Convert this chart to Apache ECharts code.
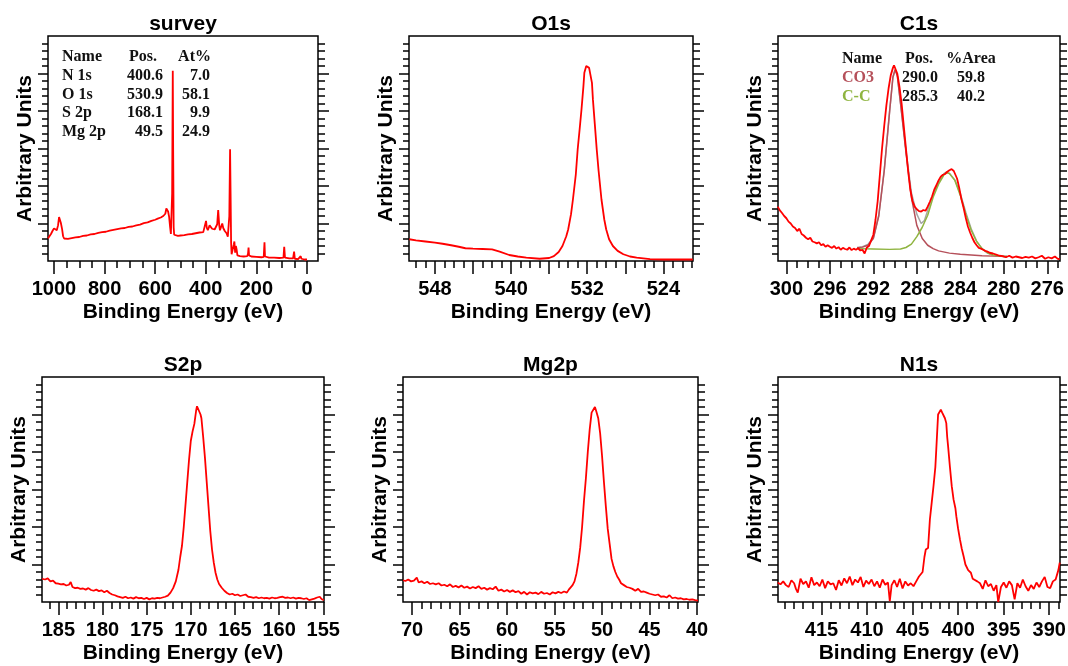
<!DOCTYPE html>
<html>
<head>
<meta charset="utf-8">
<script src="https://cdn.jsdelivr.net/npm/echarts@6/dist/echarts.min.js"></script>
<style>html,body{margin:0;padding:0;background:#fff;}#c{width:1068px;height:666px;}</style>
</head>
<body>
<div id="c"></div>
<script>
// ---------------- DATA ----------------
const panelTitles = ['survey', 'O1s', 'C1s', 'S2p', 'Mg2p', 'N1s'];

const surveyTickLabels = [1000, 800, 600, 400, 200, 0];
const o1sTickLabels = [548, 540, 532, 524];
const c1sTickLabels = [300, 296, 292, 288, 284, 280, 276];
const s2pTickLabels = [185, 180, 175, 170, 165, 160, 155];
const mg2pTickLabels = [70, 65, 60, 55, 50, 45, 40];
const n1sTickLabels = [415, 410, 405, 400, 395, 390];

const surveyTableNames = ['N 1s', 'O 1s', 'S 2p', 'Mg 2p'];
const surveyTablePos = ['400.6', '530.9', '168.1', '49.5'];
const surveyTableAt = ['7.0', '58.1', '9.9', '24.9'];

const c1sTableNames = ['CO3', 'C-C'];
const c1sTablePos = ['290.0', '285.3'];
const c1sTableArea = ['59.8', '40.2'];

const surveyData = [[1024,0.6],[1018,0.66],[1012,0.72],[1006,0.8],[1000,0.87],[995,0.84],[989,0.82],[984,0.95],[980,1.17],[977,1.12],[973,1.02],[968,0.85],[964,0.66],[960,0.6],[955,0.58],[945,0.59],[930,0.61],[915,0.63],[900,0.64],[885,0.67],[870,0.68],[855,0.71],[840,0.72],[825,0.75],[810,0.77],[795,0.78],[780,0.81],[765,0.83],[750,0.85],[735,0.87],[720,0.88],[705,0.91],[690,0.92],[675,0.95],[660,0.97],[645,1.01],[630,1.03],[615,1.07],[600,1.1],[590,1.13],[578,1.16],[568,1.2],[560,1.26],[556,1.4],[553,1.42],[549,1.32],[545,1.18],[541,0.9],[538,0.72],[535,0.75],[533,1.8],[530.5,5.07],[529,3.0],[527,0.9],[525,0.7],[520,0.66],[510,0.67],[500,0.68],[485,0.69],[470,0.71],[455,0.72],[440,0.74],[425,0.76],[410,0.77],[403,0.79],[399,1.07],[396,0.88],[392,0.82],[388,0.86],[385,0.95],[382,0.9],[375,0.86],[365,0.84],[358,0.85],[355,0.98],[351,1.36],[347,0.96],[344,0.82],[339,0.85],[335,1.0],[331,0.88],[325,0.8],[318,0.74],[313,0.65],[310,0.6],[307,1.2],[304,2.98],[302,1.8],[300,0.5],[298,0.18],[294,0.2],[289,0.45],[287,0.52],[284,0.22],[281,0.4],[278,0.3],[275,0.15],[265,0.13],[250,0.12],[236,0.13],[233,0.2],[231,0.36],[229,0.15],[220,0.12],[200,0.11],[180,0.1],[171,0.11],[168,0.5],[166,0.12],[150,0.09],[130,0.09],[110,0.08],[93,0.09],[90,0.38],[87,0.09],[70,0.07],[55,0.07],[51,0.25],[48,0.06],[35,0.05],[28,0.06],[25,0.13],[22,0.06],[10,0.04],[0,0.04]];

const o1sData = [[550.7,0.58],[550.0,0.55],[549.0,0.52],[548.0,0.49],[547.2,0.46],[546.3,0.42],[545.5,0.38],[544.8,0.34],[544.0,0.33],[543.0,0.32],[542.0,0.31],[541.2,0.25],[540.2,0.16],[539.3,0.12],[538.4,0.09],[537.0,0.06],[536.0,0.08],[535.5,0.13],[535.0,0.24],[534.6,0.4],[534.2,0.66],[534.0,0.84],[533.7,1.25],[533.5,1.64],[533.2,2.3],[533.0,2.98],[532.8,3.5],[532.6,4.04],[532.4,4.65],[532.3,5.02],[532.1,5.2],[532.0,5.23],[531.8,5.15],[531.7,5.11],[531.5,4.75],[531.4,4.31],[531.2,3.65],[531.0,2.98],[530.8,2.4],[530.5,1.64],[530.2,1.1],[530.0,0.84],[529.7,0.58],[529.3,0.4],[528.8,0.27],[528.2,0.18],[527.5,0.12],[526.8,0.09],[525.4,0.05],[524.0,0.04],[522.0,0.04],[520.9,0.04]];

const c1sRaw = [[300.8,1.45],[300.6,1.35],[300.4,1.28],[300.2,1.2],[300.0,1.14],[299.8,1.05],[299.6,1.0],[299.4,0.92],[299.2,0.88],[299.0,0.8],[298.8,0.86],[298.6,0.72],[298.4,0.68],[298.2,0.62],[298.0,0.58],[297.8,0.62],[297.6,0.52],[297.4,0.5],[297.2,0.47],[297.0,0.5],[296.8,0.42],[296.6,0.45],[296.4,0.38],[296.2,0.42],[296.0,0.38],[295.8,0.35],[295.6,0.4],[295.4,0.33],[295.2,0.37],[295.0,0.3],[294.8,0.35],[294.6,0.32],[294.4,0.3],[294.2,0.36],[294.0,0.29],[293.8,0.33],[293.6,0.3],[293.4,0.34],[293.2,0.28],[293.0,0.3],[292.8,0.2],[292.6,0.36],[292.4,0.4],[292.2,0.55],[292.0,0.7],[291.8,1.1],[291.6,1.6],[291.4,2.3],[291.2,3.0],[291.0,3.6],[290.8,4.15],[290.6,4.6],[290.4,4.95],[290.2,5.15],[290.1,5.22],[290.0,5.2],[289.8,5.0],[289.6,4.65],[289.4,4.2],[289.2,3.6],[289.0,3.0],[288.8,2.4],[288.6,1.9],[288.4,1.6],[288.2,1.45],[288.0,1.38],[287.8,1.33],[287.6,1.32],[287.4,1.36],[287.2,1.34],[287.0,1.45],[286.8,1.58],[286.6,1.72],[286.4,1.9],[286.2,2.02],[286.0,2.15],[285.8,2.25],[285.6,2.3],[285.4,2.32],[285.2,2.38],[285.0,2.42],[284.8,2.45],[284.6,2.4],[284.5,2.36],[284.3,2.2],[284.1,1.95],[283.9,1.65],[283.7,1.42],[283.5,1.15],[283.3,0.92],[283.1,0.76],[282.9,0.62],[282.7,0.5],[282.5,0.42],[282.3,0.35],[282.1,0.33],[281.9,0.3],[281.7,0.27],[281.5,0.25],[281.3,0.22],[281.0,0.2],[280.7,0.17],[280.4,0.14],[280.1,0.13],[279.8,0.1],[279.5,0.14],[279.2,0.09],[278.9,0.12],[278.6,0.1],[278.3,0.08],[278.0,0.11],[277.7,0.09],[277.4,0.12],[277.1,0.07],[276.8,0.1],[276.5,0.14],[276.2,0.06],[275.9,0.1],[275.6,0.07],[275.3,0.12],[275.0,0.05],[274.85,0.06]];

const c1sEnvelope = [[293.5,0.36],[293.0,0.38],[292.5,0.44],[292.0,0.62],[291.5,1.22],[291.0,2.42],[290.5,4.0],[290.2,4.9],[290.0,5.1],[289.8,4.96],[289.5,4.22],[289.0,2.95],[288.5,1.82],[288.0,1.25],[287.6,1.0],[287.3,1.08],[287.0,1.35],[286.5,1.78],[286.0,2.1],[285.5,2.33],[285.3,2.37],[285.0,2.34],[284.5,2.16],[284.0,1.8],[283.5,1.3],[283.0,0.86],[282.5,0.53],[282.0,0.33],[281.5,0.21],[281.0,0.15],[280.0,0.12],[279.7,0.12]];

const c1sCO3 = [[293.5,0.35],[293.0,0.37],[292.5,0.42],[292.0,0.6],[291.5,1.2],[291.0,2.4],[290.5,4.0],[290.2,4.9],[290.0,5.1],[289.8,4.95],[289.5,4.2],[289.0,2.9],[288.5,1.7],[288.0,0.95],[287.5,0.6],[287.0,0.42],[286.5,0.33],[286.0,0.27],[285.0,0.21],[284.0,0.18],[283.0,0.16],[282.0,0.14],[281.0,0.13],[279.7,0.12]];

const c1sCC = [[293.5,0.33],[292.0,0.32],[290.5,0.31],[289.5,0.32],[289.0,0.36],[288.5,0.45],[288.0,0.65],[287.5,0.9],[287.0,1.22],[286.5,1.7],[286.0,2.05],[285.5,2.3],[285.3,2.36],[285.0,2.33],[284.5,2.15],[284.0,1.75],[283.5,1.25],[283.0,0.82],[282.5,0.52],[282.0,0.33],[281.5,0.22],[281.0,0.16],[280.0,0.12],[279.7,0.12]];

const s2pData = [[186.85,0.62],[186.5,0.6],[186.2,0.63],[185.9,0.55],[185.6,0.57],[185.3,0.5],[185.0,0.49],[184.7,0.47],[184.4,0.48],[184.1,0.44],[183.8,0.46],[183.6,0.53],[183.4,0.4],[183.1,0.37],[182.8,0.38],[182.5,0.35],[182.2,0.36],[181.9,0.33],[181.6,0.37],[181.3,0.32],[181.0,0.3],[180.7,0.33],[180.4,0.29],[180.1,0.31],[179.8,0.26],[179.5,0.3],[179.2,0.24],[178.9,0.2],[178.6,0.18],[178.3,0.15],[178.0,0.13],[177.7,0.11],[177.4,0.14],[177.1,0.1],[176.8,0.12],[176.5,0.09],[176.2,0.13],[175.9,0.1],[175.6,0.11],[175.3,0.08],[175.0,0.11],[174.7,0.07],[174.4,0.1],[174.1,0.09],[173.8,0.11],[173.5,0.1],[173.2,0.12],[172.9,0.14],[172.6,0.17],[172.3,0.25],[172.0,0.37],[171.7,0.55],[171.4,0.86],[171.2,1.2],[171.0,1.5],[170.8,2.0],[170.6,2.6],[170.4,3.2],[170.2,3.8],[170.0,4.3],[169.8,4.55],[169.6,4.75],[169.4,5.1],[169.3,5.22],[169.1,5.17],[168.9,5.0],[168.8,4.9],[168.6,4.4],[168.4,3.85],[168.2,3.2],[168.0,2.55],[167.8,1.9],[167.6,1.4],[167.4,1.05],[167.2,0.78],[167.0,0.6],[166.8,0.48],[166.5,0.38],[166.2,0.3],[165.9,0.24],[165.6,0.2],[165.3,0.22],[165.0,0.18],[164.7,0.2],[164.4,0.16],[164.1,0.18],[163.8,0.2],[163.5,0.14],[163.2,0.13],[162.9,0.11],[162.6,0.13],[162.3,0.1],[162.0,0.12],[161.7,0.1],[161.4,0.11],[161.1,0.09],[160.8,0.12],[160.5,0.1],[160.2,0.11],[159.9,0.13],[159.6,0.14],[159.3,0.11],[159.0,0.12],[158.7,0.1],[158.4,0.12],[158.1,0.09],[157.8,0.11],[157.5,0.1],[157.2,0.08],[156.9,0.1],[156.6,0.05],[156.3,0.07],[156.0,0.09],[155.7,0.12],[155.4,0.14],[155.2,0.08],[154.95,0.05]];

const mg2pData = [[70.95,0.58],[70.7,0.56],[70.4,0.6],[70.1,0.55],[69.8,0.57],[69.5,0.65],[69.3,0.52],[69.0,0.55],[68.7,0.5],[68.4,0.54],[68.1,0.48],[67.8,0.5],[67.5,0.47],[67.2,0.5],[66.9,0.44],[66.6,0.46],[66.3,0.42],[66.0,0.47],[65.7,0.4],[65.4,0.43],[65.1,0.39],[64.8,0.44],[64.5,0.38],[64.2,0.41],[63.9,0.36],[63.6,0.4],[63.3,0.37],[63.0,0.42],[62.7,0.35],[62.4,0.38],[62.1,0.33],[61.8,0.37],[61.5,0.34],[61.2,0.41],[60.9,0.3],[60.6,0.33],[60.3,0.28],[60.0,0.32],[59.7,0.27],[59.4,0.31],[59.1,0.26],[58.8,0.29],[58.5,0.22],[58.2,0.27],[57.9,0.2],[57.6,0.26],[57.3,0.23],[57.0,0.25],[56.7,0.21],[56.4,0.27],[56.1,0.22],[55.8,0.24],[55.5,0.2],[55.2,0.26],[54.9,0.23],[54.6,0.27],[54.3,0.24],[54.0,0.28],[53.7,0.25],[53.5,0.33],[53.3,0.38],[53.1,0.45],[52.9,0.55],[52.7,0.75],[52.5,1.05],[52.3,1.45],[52.1,2.0],[51.9,2.7],[51.7,3.3],[51.5,4.0],[51.3,4.6],[51.1,5.05],[50.9,5.1],[50.75,5.2],[50.6,5.08],[50.4,4.9],[50.2,4.5],[50.0,3.9],[49.8,3.2],[49.6,2.55],[49.4,1.95],[49.2,1.55],[49.0,1.15],[48.8,0.95],[48.6,0.8],[48.4,0.68],[48.2,0.6],[48.0,0.5],[47.7,0.45],[47.4,0.4],[47.1,0.38],[46.8,0.35],[46.5,0.3],[46.2,0.35],[45.9,0.27],[45.6,0.28],[45.3,0.25],[45.0,0.22],[44.7,0.2],[44.4,0.18],[44.1,0.2],[43.8,0.14],[43.5,0.15],[43.2,0.12],[42.9,0.18],[42.6,0.1],[42.3,0.12],[42.0,0.09],[41.7,0.1],[41.4,0.07],[41.1,0.08],[40.8,0.06],[40.5,0.07],[40.2,0.05],[39.9,0.04]];

const n1sData = [[419.8,0.52],[419.5,0.47],[419.2,0.55],[418.9,0.45],[418.6,0.4],[418.3,0.58],[418.0,0.5],[417.8,0.35],[417.6,0.25],[417.3,0.62],[417.0,0.48],[416.7,0.55],[416.4,0.38],[416.1,0.66],[415.8,0.45],[415.5,0.52],[415.2,0.42],[414.9,0.6],[414.6,0.37],[414.3,0.55],[414.0,0.47],[413.7,0.5],[413.4,0.32],[413.1,0.58],[412.8,0.44],[412.5,0.63],[412.2,0.5],[411.9,0.68],[411.6,0.45],[411.3,0.6],[411.0,0.52],[410.7,0.67],[410.4,0.4],[410.1,0.57],[409.8,0.48],[409.5,0.6],[409.2,0.42],[408.9,0.55],[408.6,0.38],[408.3,0.6],[408.0,0.46],[407.7,0.52],[407.5,0.02],[407.3,0.45],[407.0,0.58],[406.7,0.4],[406.4,0.62],[406.1,0.36],[405.8,0.55],[405.5,0.44],[405.2,0.5],[404.9,0.42],[404.6,0.55],[404.3,0.68],[403.9,0.8],[403.7,1.2],[403.55,1.4],[403.3,1.44],[403.1,2.2],[402.9,2.65],[402.7,3.1],[402.5,3.6],[402.4,4.06],[402.2,5.0],[402.0,5.05],[401.9,5.13],[401.75,5.05],[401.6,5.1],[401.45,4.9],[401.3,4.77],[401.2,4.4],[401.1,4.15],[400.9,3.6],[400.7,3.09],[400.5,2.73],[400.3,2.5],[400.2,2.29],[400.0,1.95],[399.8,1.67],[399.6,1.42],[399.4,1.22],[399.2,1.0],[399.1,0.96],[398.9,0.85],[398.6,0.78],[398.4,0.62],[398.2,0.6],[397.9,0.55],[397.6,0.5],[397.3,0.35],[397.0,0.58],[396.7,0.42],[396.4,0.48],[396.1,0.3],[395.8,0.45],[395.6,0.0],[395.3,0.4],[395.0,0.52],[394.7,0.38],[394.4,0.55],[394.1,0.45],[393.8,0.07],[393.5,0.5],[393.2,0.38],[392.9,0.6],[392.6,0.42],[392.3,0.3],[392.0,0.45],[391.7,0.35],[391.4,0.52],[391.1,0.4],[390.8,0.55],[390.5,0.67],[390.2,0.4],[389.9,0.37],[389.6,0.55],[389.3,0.6],[389.0,0.85],[388.85,1.05]];

// ---------------- LAYOUT ----------------
const SANS = '"Liberation Sans", Arial, sans-serif';
const SERIF = '"Liberation Serif", "Times New Roman", serif';
const RED = '#ff0000';

const panels = [
  {grid: {left: 48, top: 36, width: 270, height: 225}, min: -43.5, max: 1023.7, major: 200, minor: 50, labels: surveyTickLabels},
  {grid: {left: 409, top: 36, width: 284, height: 225}, min: 520.88, max: 550.73, major: 4, minor: 1, labels: o1sTickLabels},
  {grid: {left: 778, top: 36, width: 282, height: 225}, min: 274.83, max: 300.77, major: 4, minor: 1, labels: c1sTickLabels},
  {grid: {left: 42, top: 377, width: 282, height: 225}, min: 154.92, max: 186.85, major: 5, minor: 1, labels: s2pTickLabels},
  {grid: {left: 403, top: 377, width: 295, height: 225}, min: 39.9, max: 70.95, major: 5, minor: 1, labels: mg2pTickLabels},
  {grid: {left: 778, top: 377, width: 282, height: 225}, min: 388.82, max: 419.77, major: 5, minor: 1, labels: n1sTickLabels}
];

function stepValues(min, max, step, skip) {
  const out = [];
  const start = Math.ceil(min / step - 1e-9) * step;
  for (let v = start; v <= max + 1e-9; v += step) {
    const r = Math.round(v * 1000) / 1000;
    if (skip && Math.abs(r / skip - Math.round(r / skip)) < 1e-6) continue;
    out.push(r);
  }
  return out;
}

const tickLine = {color: '#000', width: 1.5};
const noLine = {show: false, onZero: false};
const grids = [], xAxes = [], yAxes = [], titles = [];

panels.forEach((p, i) => {
  grids.push(Object.assign({show: true, borderColor: '#000', borderWidth: 1.5, backgroundColor: 'transparent',
    containLabel: false, outerBoundsMode: 'none'}, p.grid));
  const base = {gridIndex: i, type: 'value', inverse: true, min: p.min, max: p.max, position: 'bottom', offset: 0,
    axisLine: noLine, splitLine: {show: false}};
  xAxes.push(Object.assign({}, base, {
    axisTick: {show: true, inside: false, length: 13, lineStyle: tickLine, customValues: stepValues(p.min, p.max, p.major)},
    axisLabel: {show: true, customValues: p.labels, margin: 18, fontFamily: SANS, fontWeight: 'bold', fontSize: 20, color: '#000',
      formatter: v => String(v)},
    name: 'Binding Energy (eV)', nameLocation: 'middle', nameGap: 41,
    nameTextStyle: {fontFamily: SANS, fontWeight: 'bold', fontSize: 21, color: '#000'}
  }));
  xAxes.push(Object.assign({}, base, {
    axisTick: {show: true, inside: false, length: 7, lineStyle: tickLine, customValues: stepValues(p.min, p.max, p.minor, p.major)},
    axisLabel: {show: false}
  }));
  const ybase = {gridIndex: i, type: 'value', min: 0, max: 6, offset: 0, axisLine: noLine, splitLine: {show: false}, axisLabel: {show: false}};
  const majorY = [1, 2, 3, 4, 5];
  const minorY = stepValues(0.1, 5.9, 0.2, 1);
  yAxes.push(Object.assign({}, ybase, {position: 'left',
    axisTick: {show: true, inside: false, length: 10, lineStyle: tickLine, customValues: majorY},
    name: 'Arbitrary Units', nameLocation: 'middle', nameGap: 12,
    nameTextStyle: {fontFamily: SANS, fontWeight: 'bold', fontSize: 21, color: '#000'}}));
  yAxes.push(Object.assign({}, ybase, {position: 'left', axisTick: {show: true, inside: false, length: 6, lineStyle: tickLine, customValues: minorY}}));
  yAxes.push(Object.assign({}, ybase, {position: 'right', axisTick: {show: true, inside: false, length: 11, lineStyle: tickLine, customValues: majorY}}));
  yAxes.push(Object.assign({}, ybase, {position: 'right', axisTick: {show: true, inside: false, length: 7, lineStyle: tickLine, customValues: minorY}}));
  titles.push({text: panelTitles[i], left: p.grid.left + p.grid.width / 2, top: p.grid.top - 22, textAlign: 'center', padding: 0,
    textStyle: {fontFamily: SANS, fontWeight: 'bold', fontSize: 21, color: '#000'}});
});

function line(i, data, color, width, z) {
  return {type: 'line', xAxisIndex: i * 2, yAxisIndex: i * 4, data: data, showSymbol: false, symbol: 'none',
    lineStyle: {color: color, width: width}, itemStyle: {color: color}, z: z || 2, animation: false, silent: true, clip: true};
}

const series = [
  line(0, surveyData, RED, 1.8),
  line(1, o1sData, RED, 1.8),
  line(2, c1sEnvelope, '#a6a6a6', 1.5, 2),
  line(2, c1sCO3, '#b5505a', 1.5, 3),
  line(2, c1sCC, '#8fb440', 1.5, 3),
  line(2, c1sRaw, RED, 1.8, 4),
  line(3, s2pData, RED, 1.8),
  line(4, mg2pData, RED, 1.8),
  line(5, n1sData, RED, 1.8)
];

// tables
const graphics = [];
function txt(x, y, s, align, color) {
  graphics.push({type: 'text', x: x, y: y, silent: true, z: 10,
    style: {text: s, fill: color || '#111', font: 'bold 16px ' + SERIF, align: align, verticalAlign: 'middle'}});
}
txt(62, 57, 'Name', 'left'); txt(157, 57, 'Pos.', 'right'); txt(211, 57, 'At%', 'right');
surveyTableNames.forEach((n, k) => {
  const y = 76 + k * 18.5;
  txt(62, y, n, 'left'); txt(163, y, surveyTablePos[k], 'right'); txt(210, y, surveyTableAt[k], 'right');
});
const c1sColors = ['#b5505a', '#8fb440'];
txt(842, 59, 'Name', 'left'); txt(919, 59, 'Pos.', 'center'); txt(971, 59, '%Area', 'center');
c1sTableNames.forEach((n, k) => {
  const y = 78 + k * 18.5;
  txt(842, y, n, 'left', c1sColors[k]); txt(920, y, c1sTablePos[k], 'center'); txt(971, y, c1sTableArea[k], 'center');
});

const chart = echarts.init(document.getElementById('c'), null, {renderer: 'canvas'});
chart.setOption({
  animation: false,
  backgroundColor: '#fff',
  title: titles,
  grid: grids,
  xAxis: xAxes,
  yAxis: yAxes,
  series: series,
  graphic: graphics
});
</script>
</body>
</html>
